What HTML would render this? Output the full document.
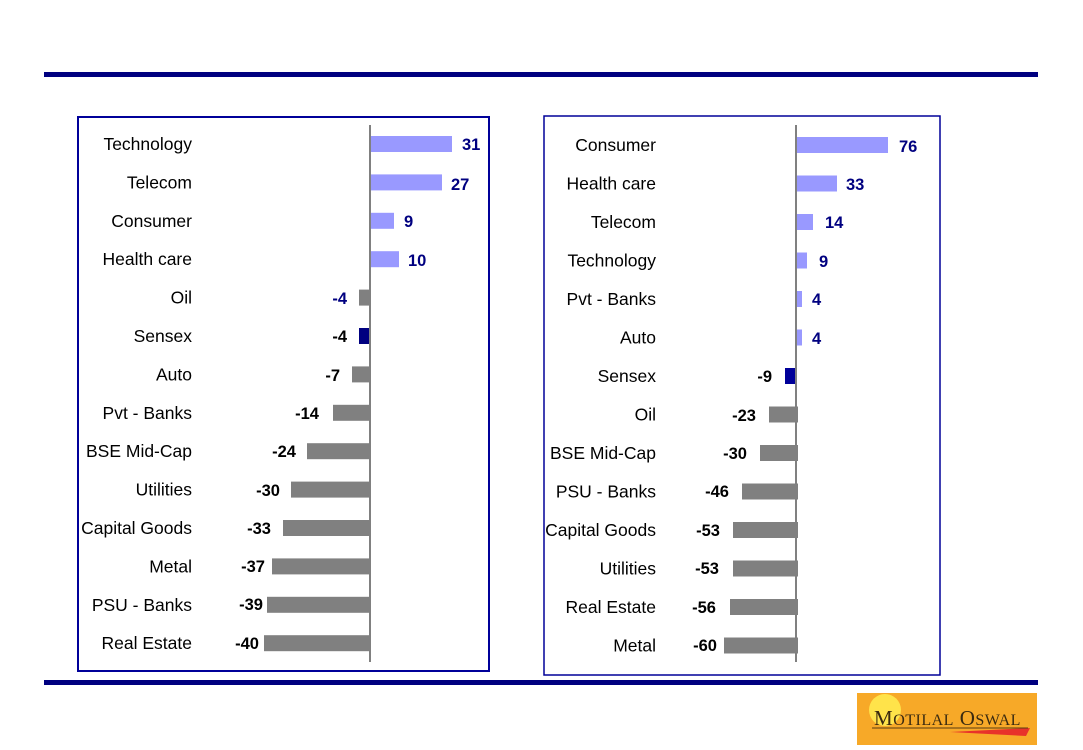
<!DOCTYPE html>
<html><head><meta charset="utf-8"><style>
html,body{margin:0;padding:0;background:#fff;width:1083px;height:750px;overflow:hidden}
svg text{font-family:"Liberation Sans",sans-serif}
.l{font-size:17.5px;fill:#000;text-anchor:end}
.v{font-size:16.5px;font-weight:bold}
.p{fill:#000080;text-anchor:start}
.n{fill:#000;text-anchor:end}
</style></head><body>
<svg width="1083" height="750" xmlns="http://www.w3.org/2000/svg">
<rect x="44" y="72" width="994" height="5" fill="#000080"/>
<rect x="44" y="680" width="994" height="5" fill="#000080"/>
<rect x="78" y="117" width="411" height="554" fill="none" stroke="#000099" stroke-width="2"/>
<rect x="544" y="116" width="396" height="559" fill="none" stroke="#000099" stroke-width="1.5"/>
<g>
<rect x="370" y="136" width="82" height="16" fill="#9999ff"/>
<rect x="370" y="174.4" width="72" height="16" fill="#9999ff"/>
<rect x="370" y="212.8" width="24" height="16" fill="#9999ff"/>
<rect x="370" y="251.2" width="29" height="16" fill="#9999ff"/>
<rect x="359" y="289.6" width="12" height="16" fill="#808080"/>
<rect x="359" y="328" width="12" height="16" fill="#000080"/>
<rect x="352" y="366.4" width="19" height="16" fill="#808080"/>
<rect x="333" y="404.8" width="38" height="16" fill="#808080"/>
<rect x="307" y="443.2" width="64" height="16" fill="#808080"/>
<rect x="291" y="481.6" width="80" height="16" fill="#808080"/>
<rect x="283" y="520" width="88" height="16" fill="#808080"/>
<rect x="272" y="558.4" width="99" height="16" fill="#808080"/>
<rect x="267" y="596.8" width="104" height="16" fill="#808080"/>
<rect x="264" y="635.2" width="107" height="16" fill="#808080"/>
<line x1="370" y1="125" x2="370" y2="662" stroke="#808080" stroke-width="2"/>
<text class="l" x="192" y="150">Technology</text>
<text class="l" x="192" y="188.4">Telecom</text>
<text class="l" x="192" y="226.8">Consumer</text>
<text class="l" x="192" y="265.2">Health care</text>
<text class="l" x="192" y="303.6">Oil</text>
<text class="l" x="192" y="342">Sensex</text>
<text class="l" x="192" y="380.4">Auto</text>
<text class="l" x="192" y="418.8">Pvt - Banks</text>
<text class="l" x="192" y="457.2">BSE Mid-Cap</text>
<text class="l" x="192" y="495.6">Utilities</text>
<text class="l" x="192" y="534">Capital Goods</text>
<text class="l" x="192" y="572.4">Metal</text>
<text class="l" x="192" y="610.8">PSU - Banks</text>
<text class="l" x="192" y="649.2">Real Estate</text>
<text class="v p" x="462" y="150">31</text>
<text class="v p" x="451" y="190">27</text>
<text class="v p" x="404" y="227">9</text>
<text class="v p" x="408" y="266">10</text>
<text class="v n" x="347" y="304" style="fill:#000080">-4</text>
<text class="v n" x="347" y="342">-4</text>
<text class="v n" x="340" y="381">-7</text>
<text class="v n" x="319" y="419">-14</text>
<text class="v n" x="296" y="457">-24</text>
<text class="v n" x="280" y="496">-30</text>
<text class="v n" x="271" y="534">-33</text>
<text class="v n" x="265" y="572">-37</text>
<text class="v n" x="263" y="610">-39</text>
<text class="v n" x="259" y="649">-40</text>
</g>
<g>
<rect x="796" y="137" width="92" height="16" fill="#9999ff"/>
<rect x="796" y="175.5" width="41" height="16" fill="#9999ff"/>
<rect x="796" y="214" width="17" height="16" fill="#9999ff"/>
<rect x="796" y="252.5" width="11" height="16" fill="#9999ff"/>
<rect x="796" y="291" width="6" height="16" fill="#9999ff"/>
<rect x="796" y="329.5" width="6" height="16" fill="#9999ff"/>
<rect x="785" y="368" width="12" height="16" fill="#000099"/>
<rect x="769" y="406.5" width="29" height="16" fill="#808080"/>
<rect x="760" y="445" width="38" height="16" fill="#808080"/>
<rect x="742" y="483.5" width="56" height="16" fill="#808080"/>
<rect x="733" y="522" width="65" height="16" fill="#808080"/>
<rect x="733" y="560.5" width="65" height="16" fill="#808080"/>
<rect x="730" y="599" width="68" height="16" fill="#808080"/>
<rect x="724" y="637.5" width="74" height="16" fill="#808080"/>
<line x1="796" y1="125" x2="796" y2="662" stroke="#808080" stroke-width="2"/>
<text class="l" x="656" y="151">Consumer</text>
<text class="l" x="656" y="189.5">Health care</text>
<text class="l" x="656" y="228">Telecom</text>
<text class="l" x="656" y="266.5">Technology</text>
<text class="l" x="656" y="305">Pvt - Banks</text>
<text class="l" x="656" y="343.5">Auto</text>
<text class="l" x="656" y="382">Sensex</text>
<text class="l" x="656" y="420.5">Oil</text>
<text class="l" x="656" y="459">BSE Mid-Cap</text>
<text class="l" x="656" y="497.5">PSU - Banks</text>
<text class="l" x="656" y="536">Capital Goods</text>
<text class="l" x="656" y="574.5">Utilities</text>
<text class="l" x="656" y="613">Real Estate</text>
<text class="l" x="656" y="651.5">Metal</text>
<text class="v p" x="899" y="152">76</text>
<text class="v p" x="846" y="190">33</text>
<text class="v p" x="825" y="228">14</text>
<text class="v p" x="819" y="267">9</text>
<text class="v p" x="812" y="305">4</text>
<text class="v p" x="812" y="344">4</text>
<text class="v n" x="772" y="382">-9</text>
<text class="v n" x="756" y="421">-23</text>
<text class="v n" x="747" y="459">-30</text>
<text class="v n" x="729" y="497">-46</text>
<text class="v n" x="720" y="536">-53</text>
<text class="v n" x="719" y="574">-53</text>
<text class="v n" x="716" y="613">-56</text>
<text class="v n" x="717" y="651">-60</text>
</g>
<rect x="857" y="693" width="180" height="52" fill="#f7a928"/>
<circle cx="885" cy="710" r="16" fill="#ffe34a"/>
<path d="M950 732 L1030 728 L1026 736 Z" fill="#e8322a"/>
<line x1="872" y1="728" x2="1028" y2="728" stroke="#5a3a10" stroke-width="1"/>
<text x="874" y="725" style="font-family:'Liberation Serif',serif;font-size:21px;fill:#3a2a10;letter-spacing:0.5px">M<tspan font-size="16">OTILAL</tspan> O<tspan font-size="16">SWAL</tspan></text>
</svg>
</body></html>
